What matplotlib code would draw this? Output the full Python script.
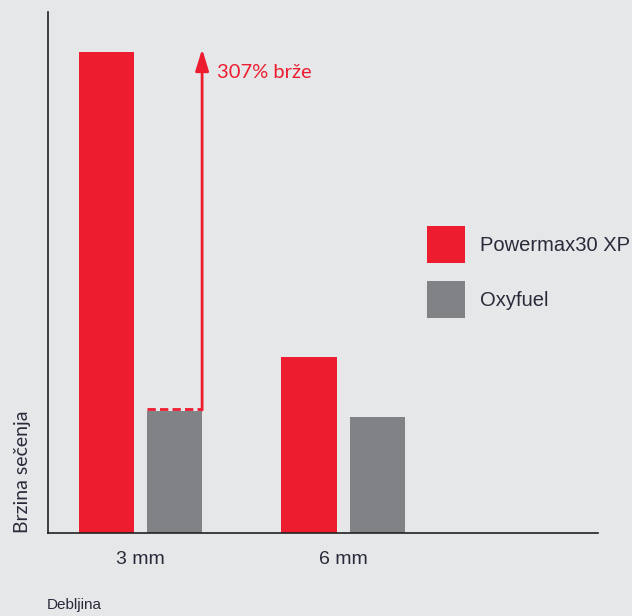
import matplotlib
matplotlib.use("Agg")
import matplotlib.pyplot as plt
from matplotlib.patches import Patch
import numpy as np

# data (arbitrary speed units)
thickness = ["3 mm", "6 mm"]
powermax = [481, 176]
oxyfuel = [122, 116]
series_names = ["Powermax30 XP", "Oxyfuel"]
gain_label = "307% brže"

RED = "#ed1c2e"
GRAY = "#808285"
BG = "#e6e7e9"
TXT = "#2a2a3a"

fig = plt.figure(figsize=(6.32, 6.16), dpi=100, facecolor=BG)
ax = fig.add_axes([48 / 632, 83 / 616, 550 / 632, 521 / 616], facecolor=BG)

x = np.arange(len(thickness))
w = 0.272
off = 0.168
ax.bar(x - off, powermax, w, color=RED)
ax.bar(x + off, oxyfuel, w, color=GRAY)

# dashed cap on the oxyfuel 3 mm bar + arrow up to the powermax level
g_left = x[0] + off - w / 2
g_right = x[0] + off + w / 2
ax.plot([g_left, g_right], [oxyfuel[0] + 2, oxyfuel[0] + 2], color=RED,
        linestyle=(0, (3, 1.5)), linewidth=2)
ax.annotate("", xy=(g_right, powermax[0] + 3), xytext=(g_right, oxyfuel[0] + 1),
            arrowprops=dict(arrowstyle="-|>,head_length=1.3,head_width=0.4",
                            color=RED, lw=2, shrinkA=0, shrinkB=0))
ax.text(g_right + 0.072, powermax[0] - 20, gain_label, color=RED,
        fontsize=14.5, family="Lato", va="center", ha="left")

ax.set_xlim(-0.457, 2.259)
ax.set_ylim(0, 521)
ax.set_xticks(x)
ax.set_xticklabels(thickness, fontsize=14, family="Liberation Sans", color=TXT)
ax.tick_params(axis="x", length=0, pad=13)
ax.set_yticks([])
for s in ["top", "right"]:
    ax.spines[s].set_visible(False)
for s in ["left", "bottom"]:
    ax.spines[s].set_color("#222222")
    ax.spines[s].set_linewidth(1.2)

ax.set_ylabel("Brzina sečenja", fontsize=14, family="Lato", color=TXT,
              loc="bottom", labelpad=12)
fig.text(47 / 632, 1 - 605 / 616, "Debljina", fontsize=11, family="Liberation Sans",
         color=TXT, va="center", ha="left")

handles = [Patch(facecolor=RED), Patch(facecolor=GRAY)]
leg = fig.legend(handles, series_names, loc="upper left",
                 bbox_to_anchor=(427 / 632, 1 - 226 / 616), frameon=False,
                 prop={"family": "Liberation Sans", "size": 14.5},
                 borderpad=0, borderaxespad=0,
                 handlelength=1.9, handleheight=2.45, labelspacing=0.9,
                 handletextpad=0.75, labelcolor=TXT)

fig.savefig("out.png", dpi=100, facecolor=BG)
